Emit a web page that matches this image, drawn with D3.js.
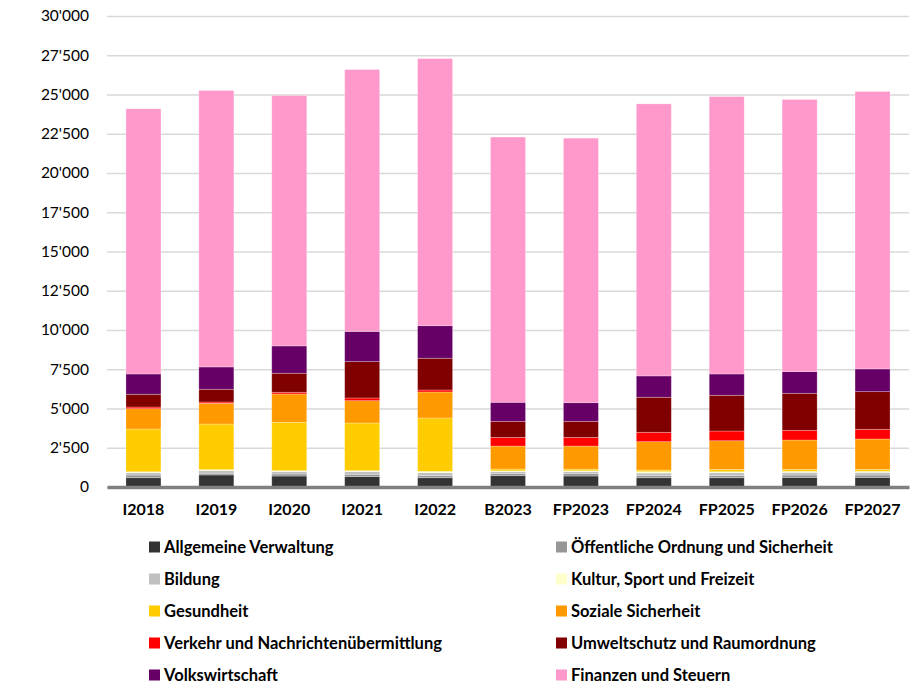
<!DOCTYPE html>
<html>
<head>
<meta charset="utf-8">
<script src="https://cdn.jsdelivr.net/npm/d3@7/dist/d3.min.js"></script>
<style>
  body { margin: 0; background: #fff; }
  text { font-family: Lato, "Open Sans", sans-serif; fill: #000; }
</style>
</head>
<body>
<script>
// values (in 1000 CHF-ish units)
let years = ["I2018","I2019","I2020","I2021","I2022","B2023","FP2023","FP2024","FP2025","FP2026","FP2027"];
let allg = [590, 765, 700, 660, 590, 720, 700, 590, 590, 612, 612];
let oeff = [170, 110, 130, 150, 130, 130, 150, 150, 150, 150, 150];
let bild = [150, 170, 150, 170, 190, 130, 130, 150, 170, 170, 170];
let kult = [60, 60, 60, 60, 85, 45, 50, 85, 60, 64, 64];
let ges  = [2723, 2906, 3080, 3035, 3399, 120, 110, 106, 150, 128, 128];
let soz  = [1294, 1321, 1805, 1422, 1658, 1463, 1468, 1805, 1826, 1869, 1933];
let verk = [109, 83, 108, 173, 128, 555, 555, 599, 619, 619, 618];
let umw  = [810, 809, 1212, 2315, 2022, 1021, 1021, 2232, 2277, 2359, 2398];
let volk = [1294, 1423, 1741, 1926, 2072, 1211, 1186, 1359, 1358, 1378, 1448];
let fin  = [16890, 17607, 15950, 16679, 17016, 16895, 16850, 17327, 17670, 17333, 17671];

let seriesNames = ["Allgemeine Verwaltung", "Öffentliche Ordnung und Sicherheit", "Bildung",
  "Kultur, Sport und Freizeit", "Gesundheit", "Soziale Sicherheit",
  "Verkehr und Nachrichtenübermittlung", "Umweltschutz und Raumordnung",
  "Volkswirtschaft", "Finanzen und Steuern"];
let seriesValues = [allg, oeff, bild, kult, ges, soz, verk, umw, volk, fin];
let colors = ["#333333", "#969696", "#c0c0c0", "#ffffcc", "#ffcc00", "#ff9900",
  "#ff0000", "#800000", "#660066", "#ff99cc"];
let yTicks = d3.range(0, 30001, 2500);

let w = 911, h = 686;
let margin = {top: 16, right: 2, bottom: 199, left: 107};
let width = w - margin.left - margin.right, height = h - margin.top - margin.bottom;

let loc = d3.formatLocale({decimal: ".", thousands: "'", grouping: [3], currency: ["", ""]});
let fmt = loc.format(",d");

// rows for the stack
let rows = years.map(function (y, i) {
  let r = {year: y};
  seriesNames.forEach(function (s, k) { r[s] = seriesValues[k][i]; });
  return r;
});
let stacked = d3.stack().keys(seriesNames)(rows);

let xScale = d3.scaleBand().domain(years).range([0, width]).paddingInner(0.52).paddingOuter(0.26);
let yScale = d3.scaleLinear().domain([0, 30000]).range([height, 0]);

let svg = d3.select("body").append("svg").attr("width", w).attr("height", h);
let g = svg.append("g").attr("transform", "translate(" + margin.left + "," + margin.top + ")");

// gridlines + y labels
let yAxis = g.append("g")
  .call(d3.axisLeft(yScale).tickValues(yTicks).tickSize(-width).tickPadding(18).tickFormat(fmt));
yAxis.select(".domain").remove();
yAxis.selectAll(".tick line").attr("stroke", "#d9d9d9").attr("stroke-width", 1.5);
yAxis.selectAll(".tick text").attr("font-size", "15.5px").attr("font-family", "Lato, sans-serif");

// bars
g.selectAll(".layer").data(stacked).enter().append("g")
  .attr("class", "layer")
  .attr("fill", function (d, i) { return colors[i]; })
  .selectAll("rect").data(function (d) { return d; }).enter().append("rect")
  .attr("x", function (d) { return xScale(d.data.year); })
  .attr("y", function (d) { return yScale(d[1]); })
  .attr("width", xScale.bandwidth())
  .attr("height", function (d) { return yScale(d[0]) - yScale(d[1]); })
  .attr("stroke", "#ffffff")
  .attr("stroke-opacity", 0.35)
  .attr("stroke-width", 0.75);

// x axis
let xAxis = g.append("g").attr("transform", "translate(0," + height + ")")
  .call(d3.axisBottom(xScale).tickSize(0).tickPadding(17));
xAxis.select(".domain").attr("stroke", "#808080").attr("stroke-width", 3.5);
xAxis.selectAll(".tick text").attr("font-size", "16px").attr("font-weight", "bold")
  .attr("font-family", "Lato, sans-serif");

// legend, two columns
let legend = svg.append("g");
let items = legend.selectAll("g").data(seriesNames).enter().append("g")
  .attr("transform", function (d, i) {
    let col = i % 2, row = Math.floor(i / 2);
    return "translate(" + (col === 0 ? 149 : 556) + "," + (547 + row * 32) + ")";
  });
items.append("rect").attr("x", 0).attr("y", -5.5).attr("width", 11).attr("height", 11)
  .attr("fill", function (d, i) { return colors[i]; });
items.append("text").text(function (d) { return d; })
  .attr("x", 15).attr("dy", "0.35em")
  .attr("font-size", "16.5px").attr("font-weight", "bold");
</script>
</body>
</html>
